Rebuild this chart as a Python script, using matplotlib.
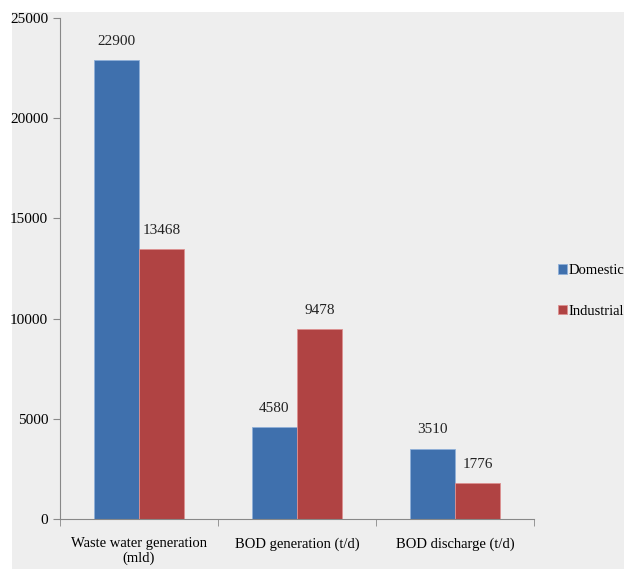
import numpy as np
import matplotlib.pyplot as plt
from matplotlib.patches import Rectangle

categories = ['Waste water generation\n(mld)', 'BOD generation (t/d)', 'BOD discharge (t/d)']
domestic = [22900, 4580, 3510]
industrial = [13468, 9478, 1776]

plt.rcParams['font.family'] = ['Liberation Serif', 'DejaVu Serif']

fig = plt.figure(figsize=(6.28, 5.69), dpi=100)
# light grey panel behind the whole chart
fig.patches.append(Rectangle((12 / 628, 0), 612 / 628, 557 / 569,
                             transform=fig.transFigure, facecolor='#eeeeee',
                             edgecolor='none', zorder=-10))

ax = fig.add_axes([60 / 628, 50 / 569, 474 / 628, 501 / 569])
ax.set_facecolor('none')

x = np.arange(len(categories))
w = 0.285
b1 = ax.bar(x - w / 2, domestic, w, color='#3f70ad', edgecolor='#8fb0d8', linewidth=0.6, label='Domestic')
b2 = ax.bar(x + w / 2, industrial, w, color='#b04343', edgecolor='#dd9090', linewidth=0.6, label='Industrial')

for bars, vals in [(b1, domestic), (b2, industrial)]:
    for bar, v in zip(bars, vals):
        ax.annotate(f'{v}', (bar.get_x() + bar.get_width() / 2, v),
                    xytext=(0, 9), textcoords='offset points',
                    ha='center', va='bottom', fontsize=11, color='#222222')

ax.set_xlim(-0.5, 2.5)
ax.set_ylim(0, 25000)
ax.set_yticks(range(0, 25001, 5000))
ax.set_xticks(x)
ax.set_xticklabels(categories, fontsize=10.5, linespacing=1.1)
ax.set_xticks([-0.5, 0.5, 1.5, 2.5], minor=True)
ax.tick_params(axis='x', which='major', length=0, pad=13)
ax.tick_params(axis='x', which='minor', length=5, color='#888888')
ax.tick_params(axis='y', length=5, color='#888888', labelsize=11)

for s in ['top', 'right']:
    ax.spines[s].set_visible(False)
for s in ['left', 'bottom']:
    ax.spines[s].set_color('#888888')
    ax.spines[s].set_linewidth(0.8)

fig.legend(loc='center left', bbox_to_anchor=(558 / 628, 1 - 291 / 569),
           frameon=False, handlelength=0.6, handleheight=0.6,
           handletextpad=0.15, labelspacing=1.9, fontsize=10.5,
           borderaxespad=0, borderpad=0)

fig.savefig('out.png', dpi=100)
